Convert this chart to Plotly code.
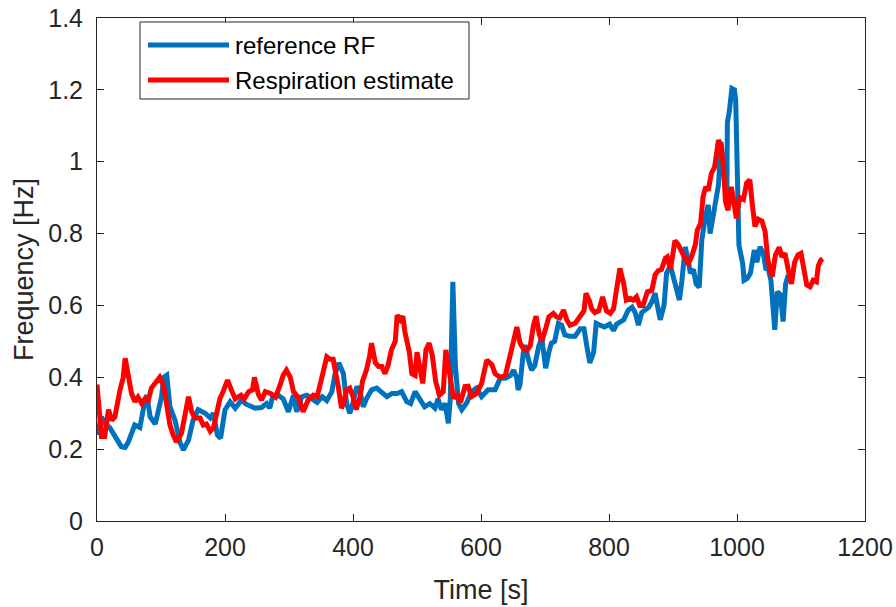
import plotly.graph_objects as go

# reference RF (blue)
ref_t = [0, 7, 13, 20, 30, 38, 44, 49, 59, 67, 75, 78, 83, 91, 101, 104, 109, 114, 122, 130,
         135, 143, 150, 158, 169, 177, 182, 188, 193, 200, 208, 216, 226, 233, 247, 257, 265, 270,
         275, 283, 291, 299, 307, 312, 320, 328, 336, 344, 352, 359, 367, 372, 378, 385, 390, 395,
         400, 406, 411, 416, 421, 429, 437, 445, 453, 461, 469, 476, 484, 490, 497, 505, 512, 520,
         528, 533, 538, 544, 549, 552, 556, 560, 565, 570, 578, 585, 593, 601, 611, 622, 630, 638,
         646, 651, 656, 658, 661, 666, 669, 674, 679, 684, 690, 695, 699, 701, 706, 710, 715, 721,
         726, 731, 739, 747, 755, 761, 766, 770, 776, 780, 786, 793, 801, 807, 812, 820, 823, 830,
         836, 841, 846, 851, 857, 862, 867, 872, 877, 880, 886, 890, 896, 901, 906, 910, 914, 919,
         924, 927, 932, 936, 941, 945, 950, 955, 958, 964, 968, 971, 975, 979, 984, 985, 988, 992,
         996, 998, 1001, 1003, 1009, 1011, 1016, 1021, 1027, 1031, 1036, 1041, 1045, 1049, 1053,
         1057, 1059, 1063, 1068, 1072, 1076, 1080]
ref_f = [0.24, 0.29, 0.27, 0.26, 0.23, 0.207, 0.205, 0.22, 0.267, 0.26, 0.337, 0.35, 0.29, 0.27,
         0.346, 0.40, 0.406, 0.318, 0.28, 0.217, 0.198, 0.225, 0.28, 0.31, 0.30, 0.287, 0.30, 0.24,
         0.23, 0.309, 0.332, 0.314, 0.337, 0.325, 0.314, 0.316, 0.327, 0.314, 0.35, 0.35, 0.34,
         0.304, 0.35, 0.304, 0.346, 0.35, 0.34, 0.33, 0.346, 0.335, 0.36, 0.41, 0.44, 0.41, 0.327,
         0.30, 0.33, 0.374, 0.36, 0.318, 0.34, 0.365, 0.37, 0.36, 0.346, 0.355, 0.355, 0.36, 0.332,
         0.327, 0.36, 0.337, 0.318, 0.327, 0.314, 0.34, 0.31, 0.327, 0.272, 0.34, 0.666, 0.43,
         0.327, 0.31, 0.33, 0.36, 0.37, 0.346, 0.365, 0.365, 0.397, 0.397, 0.405, 0.42, 0.397,
         0.365, 0.38, 0.467, 0.49, 0.45, 0.42, 0.433, 0.485, 0.51, 0.45, 0.425, 0.47, 0.495, 0.50,
         0.55, 0.545, 0.518, 0.514, 0.514, 0.535, 0.535, 0.48, 0.44, 0.47, 0.55, 0.545, 0.54, 0.548,
         0.53, 0.548, 0.555, 0.56, 0.587, 0.595, 0.58, 0.545, 0.58, 0.587, 0.595, 0.61, 0.634,
         0.587, 0.56, 0.60, 0.69, 0.71, 0.675, 0.634, 0.615, 0.67, 0.763, 0.725, 0.69, 0.70, 0.66,
         0.65, 0.782, 0.84, 0.88, 0.80, 0.87, 0.91, 0.935, 1.055, 0.972, 0.88, 1.11, 1.14, 1.204,
         1.20, 1.17, 0.98, 0.768, 0.715, 0.67, 0.675, 0.69, 0.754, 0.72, 0.763, 0.745, 0.703, 0.70,
         0.67, 0.555, 0.532, 0.638, 0.63, 0.555, 0.66, 0.685]

# Respiration estimate (red)
est_t = [0, 7, 12, 18, 23, 28, 36, 41, 44, 49, 54, 59, 64, 70, 75, 80, 85, 93, 98, 104, 109, 114,
         119, 124, 132, 138, 143, 148, 153, 161, 166, 171, 177, 182, 187, 192, 197, 204, 211, 216,
         225, 230, 237, 243, 246, 252, 257, 263, 271, 279, 286, 291, 296, 302, 307, 315, 322, 330,
         338, 344, 351, 359, 364, 369, 377, 382, 385, 390, 395, 400, 405, 411, 415, 421, 426, 429,
         435, 440, 445, 450, 455, 460, 466, 469, 474, 478, 481, 488, 492, 497, 500, 505, 509, 514,
         519, 524, 529, 535, 541, 545, 550, 557, 562, 568, 575, 580, 585, 593, 601, 609, 617, 622,
         630, 638, 645, 652, 656, 661, 666, 672, 677, 682, 686, 691, 695, 701, 706, 713, 718, 723,
         729, 734, 739, 747, 755, 761, 764, 769, 773, 778, 784, 790, 796, 802, 807, 812, 817, 823,
         827, 833, 838, 843, 848, 853, 860, 867, 872, 877, 882, 888, 891, 896, 900, 903, 908, 914,
         919, 924, 929, 935, 938, 943, 947, 951, 955, 960, 965, 971, 975, 979, 982, 986, 991, 994,
         999, 1004, 1010, 1015, 1020, 1024, 1028, 1033, 1039, 1044, 1048, 1052, 1055, 1060, 1066,
         1070, 1075, 1080, 1085, 1090, 1095, 1100, 1104, 1109, 1114, 1119, 1124, 1127, 1131, 1134]
est_f = [0.38, 0.235, 0.235, 0.31, 0.28, 0.29, 0.365, 0.40, 0.453, 0.40, 0.355, 0.332, 0.345,
         0.327, 0.34, 0.335, 0.37, 0.388, 0.40, 0.378, 0.327, 0.267, 0.24, 0.22, 0.244, 0.30, 0.346,
         0.304, 0.287, 0.287, 0.267, 0.27, 0.25, 0.26, 0.30, 0.34, 0.36, 0.392, 0.36, 0.34, 0.35,
         0.34, 0.36, 0.365, 0.40, 0.353, 0.337, 0.36, 0.355, 0.345, 0.378, 0.406, 0.42, 0.40, 0.36,
         0.343, 0.304, 0.337, 0.35, 0.346, 0.397, 0.457, 0.45, 0.45, 0.374, 0.314, 0.327, 0.365,
         0.37, 0.346, 0.31, 0.346, 0.39, 0.42, 0.46, 0.495, 0.44, 0.43, 0.43, 0.41, 0.435, 0.476,
         0.50, 0.573, 0.56, 0.57, 0.527, 0.47, 0.41, 0.405, 0.47, 0.42, 0.383, 0.476, 0.495, 0.46,
         0.39, 0.35, 0.36, 0.476, 0.42, 0.342, 0.35, 0.33, 0.374, 0.375, 0.346, 0.355, 0.383,
         0.448, 0.435, 0.41, 0.40, 0.405, 0.457, 0.508, 0.54, 0.495, 0.48, 0.475, 0.488, 0.545,
         0.57, 0.52, 0.50, 0.535, 0.568, 0.578, 0.568, 0.565, 0.587, 0.56, 0.545, 0.55, 0.568,
         0.585, 0.634, 0.615, 0.59, 0.58, 0.585, 0.624, 0.585, 0.578, 0.59, 0.66, 0.703, 0.66,
         0.615, 0.62, 0.615, 0.624, 0.60, 0.60, 0.638, 0.642, 0.685, 0.697, 0.70, 0.731, 0.735,
         0.70, 0.754, 0.78, 0.77, 0.745, 0.73, 0.717, 0.735, 0.77, 0.81, 0.827, 0.903, 0.93, 0.92,
         0.968, 0.985, 1.06, 1.045, 0.98, 0.89, 0.865, 0.93, 0.90, 0.842, 0.90, 0.895, 0.94, 0.95,
         0.88, 0.82, 0.84, 0.835, 0.805, 0.73, 0.695, 0.68, 0.74, 0.762, 0.735, 0.745, 0.70, 0.66,
         0.72, 0.74, 0.745, 0.70, 0.657, 0.652, 0.67, 0.666, 0.71, 0.726, 0.73]

x_ticks = [0, 200, 400, 600, 800, 1000, 1200]
y_ticks = [0, 0.2, 0.4, 0.6, 0.8, 1.0, 1.2, 1.4]
y_tick_labels = ["0", "0.2", "0.4", "0.6", "0.8", "1", "1.2", "1.4"]
series_names = ["reference RF", "Respiration estimate"]
colors = ["#0072BD", "#FF0000"]

FONT = "Liberation Sans, Arial, sans-serif"
AX = "#262626"

fig = go.Figure()
fig.add_trace(go.Scatter(x=ref_t, y=ref_f, mode="lines", name=series_names[0],
                         line=dict(color=colors[0], width=5), showlegend=False))
fig.add_trace(go.Scatter(x=est_t, y=est_f, mode="lines", name=series_names[1],
                         line=dict(color=colors[1], width=5), showlegend=False))

axis_common = dict(showgrid=False, zeroline=False, showline=True, linecolor=AX, linewidth=1,
                   mirror="ticks", ticks="inside", ticklen=7, tickcolor=AX, automargin=False,
                   tickfont=dict(family=FONT, size=25, color=AX))

fig.update_xaxes(range=[0, 1200], tickvals=x_ticks, ticklabelstandoff=4,
                 title=dict(text="Time [s]", font=dict(family=FONT, size=27, color=AX), standoff=20),
                 **axis_common)
fig.update_yaxes(range=[0, 1.4], tickvals=y_ticks, ticktext=y_tick_labels, ticklabelstandoff=8,
                 title=dict(text="Frequency [Hz]", font=dict(family=FONT, size=27, color=AX), standoff=6),
                 **axis_common)

# legend box drawn in paper coordinates
def px_x(p):
    return (p - 97) / 768.0

def px_y(p):
    return (521 - p) / 503.0

shapes = [dict(type="rect", xref="paper", yref="paper", x0=px_x(140), x1=px_x(469),
               y0=px_y(99), y1=px_y(22), line=dict(color=AX, width=1), fillcolor="white", layer="above")]
annotations = []
for i, (name, c) in enumerate(zip(series_names, colors)):
    yy = px_y(45 + 35 * i)
    shapes.append(dict(type="line", xref="paper", yref="paper", x0=px_x(148), x1=px_x(229),
                       y0=yy, y1=yy, line=dict(color=c, width=5), layer="above"))
    annotations.append(dict(xref="paper", yref="paper", x=px_x(233), y=yy, text=name,
                            showarrow=False, xanchor="left", yanchor="middle",
                            font=dict(family=FONT, size=24, color="#000000")))

fig.update_layout(width=896, height=607, margin=dict(l=97, r=31, t=18, b=86),
                  paper_bgcolor="white", plot_bgcolor="white",
                  shapes=shapes, annotations=annotations, showlegend=False)

fig.write_html("out.html")
